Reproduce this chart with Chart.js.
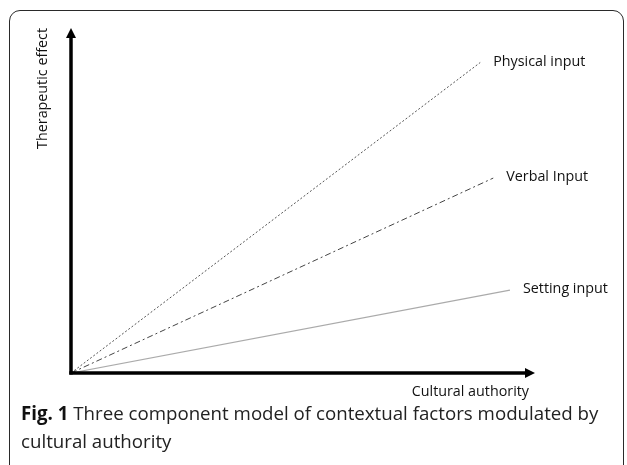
<!DOCTYPE html>
<html>
<head>
<meta charset="utf-8">
<script src="https://cdn.jsdelivr.net/npm/chart.js@4.4.1/dist/chart.umd.min.js"></script>
<style>
  html, body { margin: 0; padding: 0; background: #fff; }
  #wrap { position: relative; width: 627px; height: 465px; overflow: hidden; }
  #frame { position: absolute; left: 9px; top: 10px; width: 615px; height: 480px;
           border: 1.6px solid #2a2a2a; border-radius: 11px; box-sizing: border-box; }
  #c { position: absolute; left: 0; top: 0; }
  #caption { position: absolute; left: 21px; top: 399px; width: 600px;
             font-family: "Open Sans", sans-serif; font-size: 18.7px; line-height: 28px; color: #222; }
  #caption b { font-weight: 700; color: #111; }
</style>
</head>
<body>
<div id="wrap">
  <div id="frame"></div>
  <canvas id="c" width="627" height="465"></canvas>
  <div id="caption"><b>Fig. 1</b> Three component model of contextual factors modulated by cultural authority</div>
</div>
<script>
// ---- data ----
const seriesNames = ['Physical input', 'Verbal Input', 'Setting input'];
const startX = [0, 0, 0];
const startY = [0, 0, 0];
const endX = [88.2, 91, 94.6];
const endY = [90, 56.5, 24];
const xAxisTitle = 'Cultural authority';
const yAxisTitle = 'Therapeutic effect';
const xMax = 100;
const yMax = 100;

const styles = [
  { color: '#555', dash: [2, 2], width: 1 },
  { color: '#444', dash: [6, 3, 2, 3], width: 1 },
  { color: '#aaa', dash: [], width: 1.2 }
];

const datasets = seriesNames.map((name, i) => ({
  label: name,
  data: [{ x: startX[i], y: startY[i] }, { x: endX[i], y: endY[i] }],
  borderColor: styles[i].color,
  borderDash: styles[i].dash,
  borderWidth: styles[i].width,
  pointRadius: 0,
  fill: false,
  tension: 0
}));

const decor = {
  id: 'decor',
  afterDatasetsDraw(chart) {
    const ctx = chart.ctx;
    const xs = chart.scales.x, ys = chart.scales.y;
    const ox = xs.getPixelForValue(0), oy = ys.getPixelForValue(0);
    const tx = xs.getPixelForValue(xMax), ty = ys.getPixelForValue(yMax);
    ctx.save();
    ctx.fillStyle = '#000';
    ctx.strokeStyle = '#000';
    ctx.lineWidth = 3.5;
    ctx.lineCap = 'butt';
    // y axis
    ctx.beginPath();
    ctx.moveTo(ox, oy + 1.5);
    ctx.lineTo(ox, ty + 9);
    ctx.stroke();
    // x axis
    ctx.beginPath();
    ctx.moveTo(ox - 1.7, oy);
    ctx.lineTo(tx - 9, oy);
    ctx.stroke();
    // arrowheads
    ctx.beginPath();
    ctx.moveTo(ox, ty);
    ctx.lineTo(ox - 5, ty + 10);
    ctx.lineTo(ox + 5, ty + 10);
    ctx.closePath();
    ctx.fill();
    ctx.beginPath();
    ctx.moveTo(tx, oy);
    ctx.lineTo(tx - 10, oy - 5);
    ctx.lineTo(tx - 10, oy + 5);
    ctx.closePath();
    ctx.fill();
    // series labels
    ctx.font = '14.3px "Open Sans", sans-serif';
    ctx.fillStyle = '#111';
    ctx.textBaseline = 'middle';
    ctx.textAlign = 'left';
    seriesNames.forEach((n, i) => {
      const px = xs.getPixelForValue(endX[i]);
      const py = ys.getPixelForValue(endY[i]);
      ctx.fillText(n, px + 13, py - 1);
    });
    // axis titles
    ctx.textAlign = 'right';
    ctx.textBaseline = 'alphabetic';
    ctx.fillText(xAxisTitle, tx - 6, oy + 23);
    ctx.save();
    ctx.translate(ox - 28, ty);
    ctx.rotate(-Math.PI / 2);
    ctx.textAlign = 'right';
    ctx.textBaseline = 'middle';
    ctx.fillText(yAxisTitle, 0, 0);
    ctx.restore();
    ctx.restore();
  }
};

new Chart(document.getElementById('c'), {
  type: 'line',
  data: { datasets },
  options: {
    responsive: false,
    animation: false,
    layout: { padding: { left: 71, top: 28, right: 92, bottom: 92 } },
    plugins: { legend: { display: false }, tooltip: { enabled: false } },
    scales: {
      x: { type: 'linear', min: 0, max: xMax, display: false },
      y: { type: 'linear', min: 0, max: yMax, display: false }
    }
  },
  plugins: [decor]
});
</script>
</body>
</html>
